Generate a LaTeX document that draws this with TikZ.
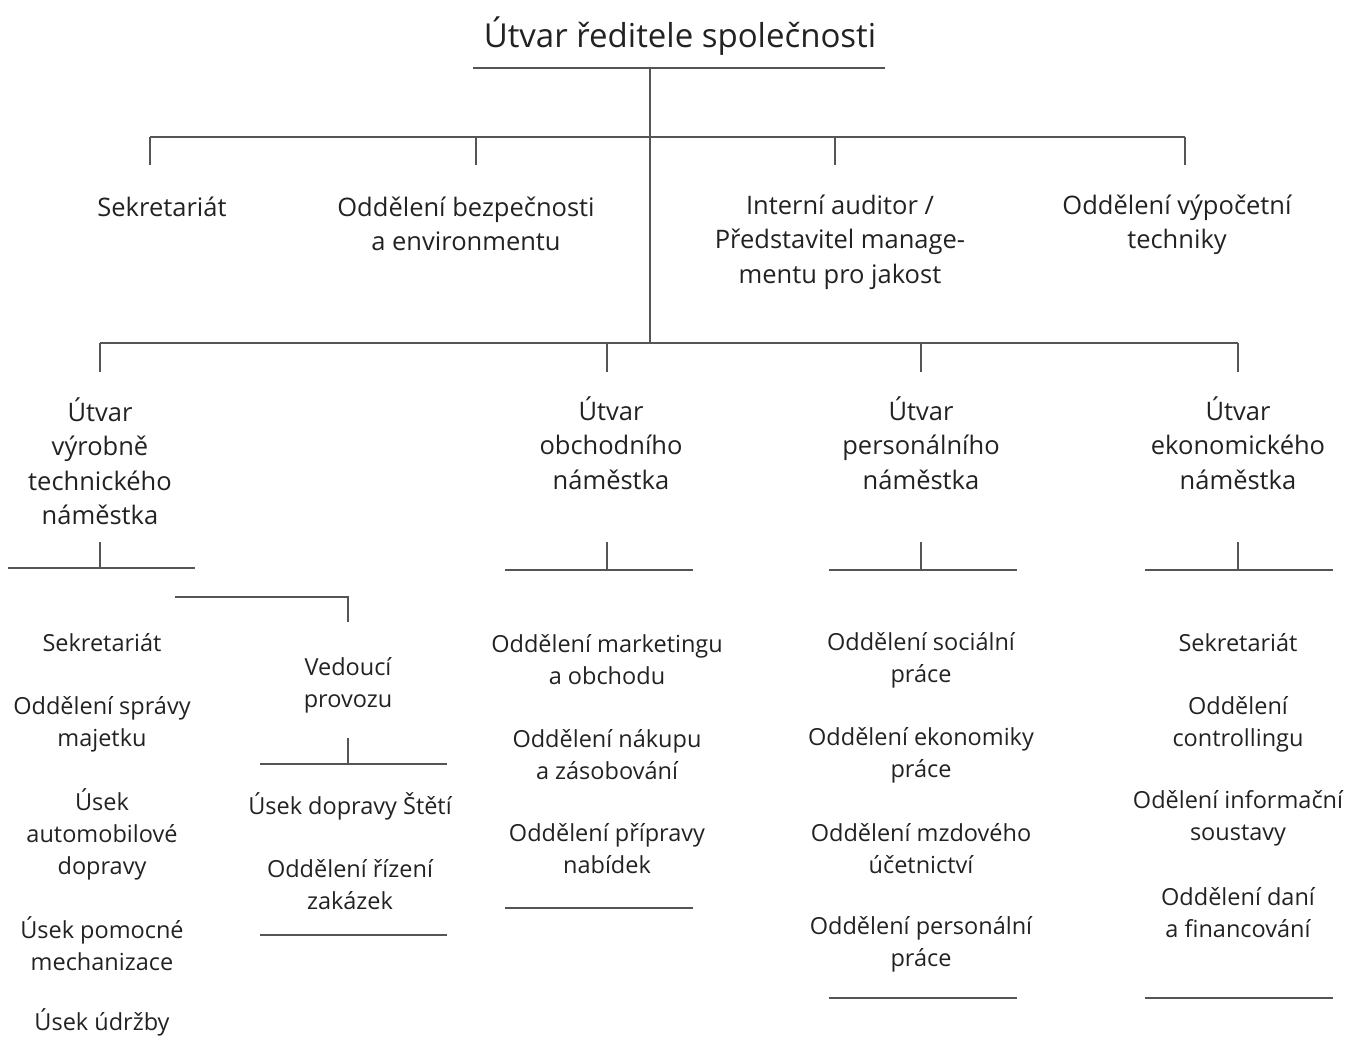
\documentclass[tikz,border=0pt]{standalone}
\usepackage{fontspec}
\setmainfont{Open Sans}
\usepackage{tikz}

\definecolor{orgline}{HTML}{555555}
\definecolor{orgtext}{HTML}{222222}
\tikzset{
	bar/.style={draw=orgline, line width=2.4pt},
	unit/.style={align=center, text=orgtext, inner sep=0pt, font=\fontsize{25.5}{34.5}\selectfont},
	dept/.style={align=center, text=orgtext, inner sep=0pt, font=\fontsize{23.5}{32}\selectfont},
}

\begin{document}
\begin{tikzpicture}[x=1pt, y=-1pt]
	\useasboundingbox (0,0) rectangle (1349,1059);

	\node[unit, font=\fontsize{33}{40}\selectfont] (ceo) at (680, 36) {Útvar ředitele společnosti};

	\node[unit] (sekr) at (162, 207) {Sekretariát};
	\node[unit] (bezp) at (466, 224) {Oddělení bezpečnosti\\a environmentu};
	\node[unit] (audit) at (840, 242) {Interní auditor /\\Představitel manage-\\mentu pro jakost};
	\node[unit] (ivt) at (1177, 225) {Oddělení výpočetní\\techniky};

	\node[unit] (vyrob) at (100, 461) {Útvar\\výrobně\\technického\\náměstka};
	\node[unit] (obch) at (611, 443) {Útvar\\obchodního\\náměstka};
	\node[unit] (pers) at (921, 443) {Útvar\\personálního\\náměstka};
	\node[unit] (ekon) at (1238, 443) {Útvar\\ekonomického\\náměstka};

	\node[dept] (vyrobA) at (102, 643) {Sekretariát};
	\node[dept] (vyrobB) at (102, 724) {Oddělení správy\\majetku};
	\node[dept] (vyrobC) at (102, 834) {Úsek\\automobilové\\dopravy};
	\node[dept] (vyrobD) at (102, 944) {Úsek pomocné\\mechanizace};
	\node[dept] (vyrobE) at (102, 1022) {Úsek údržby};

	\node[dept] (ved) at (348, 685) {Vedoucí\\provozu};
	\node[dept] (vedA) at (350, 806) {Úsek dopravy Štětí};
	\node[dept] (vedB) at (350, 885) {Oddělení řízení\\zakázek};

	\node[dept] (obchA) at (607, 660) {Oddělení marketingu\\a obchodu};
	\node[dept] (obchB) at (607, 755) {Oddělení nákupu\\a zásobování};
	\node[dept] (obchC) at (607, 849) {Oddělení přípravy\\nabídek};

	\node[dept] (persA) at (921, 660) {Oddělení sociální\\práce};
	\node[dept] (persB) at (921, 755) {Oddělení ekonomiky\\práce};
	\node[dept] (persC) at (921, 849) {Oddělení mzdového\\účetnictví};
	\node[dept] (persD) at (921, 944) {Oddělení personální\\práce};

	\node[dept] (ekonA) at (1238, 643) {Sekretariát};
	\node[dept] (ekonB) at (1238, 724) {Oddělení\\controllingu};
	\node[dept] (ekonC) at (1238, 818) {Odělení informační\\soustavy};
	\node[dept] (ekonD) at (1238, 913) {Oddělení daní\\a financování};

	\coordinate (ceoL) at (473, 68);
	\coordinate (ceoR) at (885, 68);
	\coordinate (ceoJ) at (650, 68);
	\coordinate (staffL) at (150, 137);
	\coordinate (staffR) at (1185, 137);
	\coordinate (depL) at (100, 343);
	\coordinate (depR) at (1238, 343);
	\coordinate (ved1) at (175, 597);
	\coordinate (ved2) at (348, 597);

	\draw[bar] (ceoL) -- (ceoR);
	\draw[bar] (ceoJ) -- (ceoJ |- depL);
	\draw[bar] (staffL) -- (staffR);
	\draw[bar] (depL) -- (depR);
	\foreach \x in {150, 476, 835, 1185}
		\draw[bar] (\x, 137) -- ++(0, 28);
	\foreach \x in {100, 607, 921, 1238}
		\draw[bar] (\x, 343) -- ++(0, 29);

	\draw[bar] (100, 542) -- (100, 568);
	\draw[bar] (8, 568) -- (195, 568);
	\draw[bar] (ved1) -- (ved2) -- ++(0, 25);

	\draw[bar] (348, 738) -- (348, 764);
	\draw[bar] (260, 764) -- (447, 764);
	\draw[bar] (260, 935) -- (447, 935);

	\foreach \x/\c/\end in {607/599/908, 921/923/998, 1238/1239/998} {
		\draw[bar] (\x, 542) -- (\x, 570);
		\draw[bar] (\c-94, 570) -- (\c+94, 570);
		\draw[bar] (\c-94, \end) -- (\c+94, \end);
	}

\end{tikzpicture}
\end{document}
